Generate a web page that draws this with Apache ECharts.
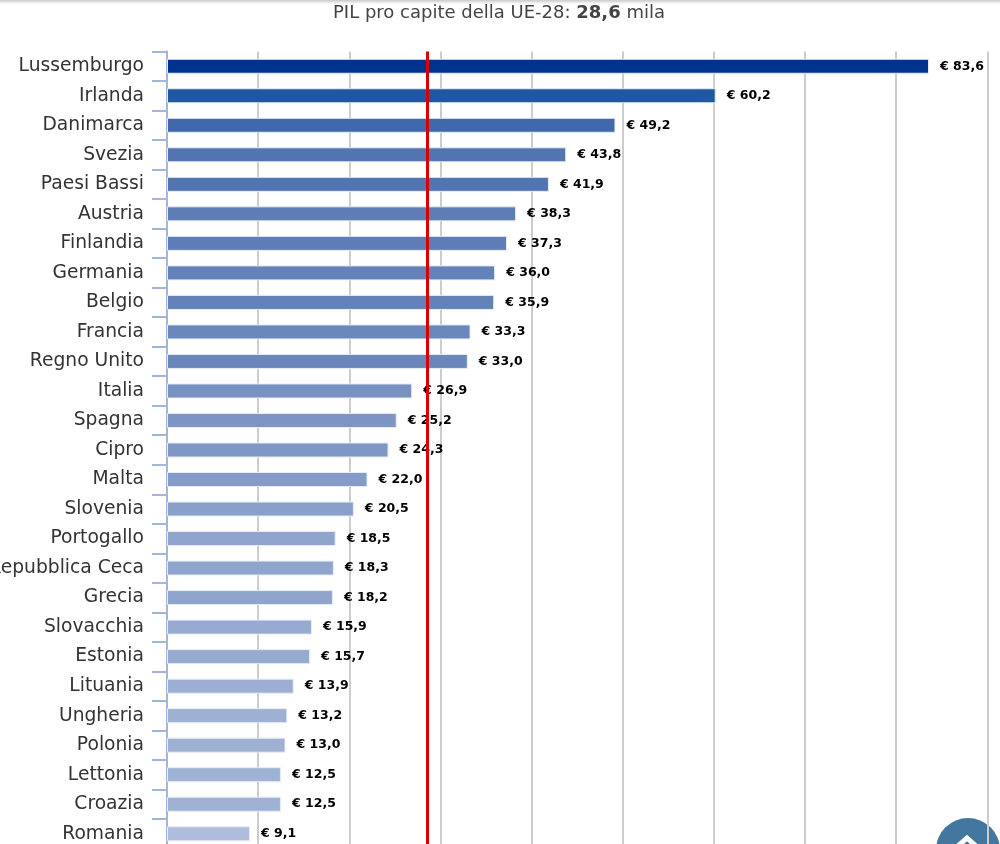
<!DOCTYPE html>
<html lang="it">

<head>
    <meta charset="UTF-8">
    <title>PIL pro capite UE-28</title>
    <script src="https://cdn.jsdelivr.net/npm/echarts@6/dist/echarts.min.js"></script>
    <style>
        html, body { margin: 0; padding: 0; background: #fff; }
        #box { width: 1000px; height: 844px; }
    </style>
</head>

<body>
    <div id="box"></div>
</body>
<script>
    var paesi = [
        ['Lussemburgo', 83.6, '#00338d'],
        ['Irlanda', 60.2, '#1f57a0'],
        ['Danimarca', 49.2, '#3f69ab'],
        ['Svezia', 43.8, '#5274b1'],
        ['Paesi Bassi', 41.9, '#5274b1'],
        ['Austria', 38.3, '#5e7db6'],
        ['Finlandia', 37.3, '#5e7db6'],
        ['Germania', 36.0, '#6382b9'],
        ['Belgio', 35.9, '#6382b9'],
        ['Francia', 33.3, '#6a87bb'],
        ['Regno Unito', 33.0, '#6a87bb'],
        ['Italia', 26.9, '#7891c1'],
        ['Spagna', 25.2, '#7c95c3'],
        ['Cipro', 24.3, '#7f97c5'],
        ['Malta', 22.0, '#859cc8'],
        ['Slovenia', 20.5, '#8aa0ca'],
        ['Portogallo', 18.5, '#90a5cd'],
        ['Repubblica Ceca', 18.3, '#90a5cd'],
        ['Grecia', 18.2, '#90a5cd'],
        ['Slovacchia', 15.9, '#97abd0'],
        ['Estonia', 15.7, '#97abd0'],
        ['Lituania', 13.9, '#9cafd2'],
        ['Ungheria', 13.2, '#9eb1d3'],
        ['Polonia', 13.0, '#9eb1d3'],
        ['Lettonia', 12.5, '#a0b2d4'],
        ['Croazia', 12.5, '#a0b2d4'],
        ['Romania', 9.1, '#adbddb']
    ];

    var my = echarts.init(document.getElementById('box'));

    var option = {
        backgroundColor: '#fff',
        animation: false,
        textStyle: { fontFamily: 'DejaVu Sans' },
        title: {
            text: 'PIL pro capite della UE-28: {b|28,6} mila',
            left: 328,
            top: -1,
            textStyle: {
                color: '#444',
                fontSize: 18,
                fontWeight: 'normal',
                fontFamily: 'DejaVu Sans',
                rich: {
                    b: { fontSize: 18, fontWeight: 'bold', color: '#444', fontFamily: 'DejaVu Sans' }
                }
            }
        },
        // griglia piu larga della pagina: l'ultima parte viene tagliata come nell'originale
        grid: { left: 167, top: 51.5, width: 911.5, height: 797, outerBoundsMode: 'none' },
        xAxis: {
            type: 'value',
            min: 0,
            max: 100,
            interval: 10,
            axisLabel: { show: false },
            axisLine: { show: false },
            axisTick: { show: false },
            splitLine: { lineStyle: { color: '#cccccc', width: 2 } }
        },
        yAxis: {
            type: 'category',
            inverse: true,
            data: paesi.map(function (p) { return p[0]; }),
            axisLine: { show: true, lineStyle: { color: '#a3b5dc', width: 2 } },
            axisTick: { show: true, length: 15, lineStyle: { color: '#a3b5dc', width: 2 } },
            axisLabel: { color: '#333', fontSize: 18.7, margin: 23, fontFamily: 'DejaVu Sans' }
        },
        series: [{
            type: 'bar',
            barWidth: 15,
            data: paesi.map(function (p) {
                return { value: p[1], itemStyle: { color: p[2] } };
            }),
            itemStyle: { borderColor: '#e6ecf6', borderWidth: 1 },
            label: {
                show: true,
                position: 'right',
                distance: 11,
                color: '#000',
                fontSize: 12.5,
                fontWeight: 'bold',
                fontFamily: 'DejaVu Sans',
                formatter: function (d) {
                    return '€ ' + d.value.toFixed(1).replace('.', ',');
                }
            },
            markLine: {
                silent: true,
                symbol: 'none',
                label: { show: false },
                lineStyle: { color: '#d90000', width: 3, type: 'solid' },
                data: [{ xAxis: 28.6 }]
            }
        }],
        graphic: [
            {
                type: 'rect',
                shape: { x: 0, y: 0, width: 1000, height: 4 },
                style: {
                    fill: new echarts.graphic.LinearGradient(0, 0, 0, 1, [
                        { offset: 0, color: '#c9c9cf' },
                        { offset: 1, color: '#ffffff' }
                    ])
                }
            },
            {
                type: 'circle',
                shape: { cx: 968, cy: 850, r: 32 },
                style: { fill: '#44779f' }
            },
            {
                type: 'polyline',
                shape: { points: [[958, 846], [967, 838], [976, 846]] },
                style: { stroke: '#fff', lineWidth: 5, fill: 'none' }
            }
        ]
    };

    my.setOption(option);
</script>

</html>
